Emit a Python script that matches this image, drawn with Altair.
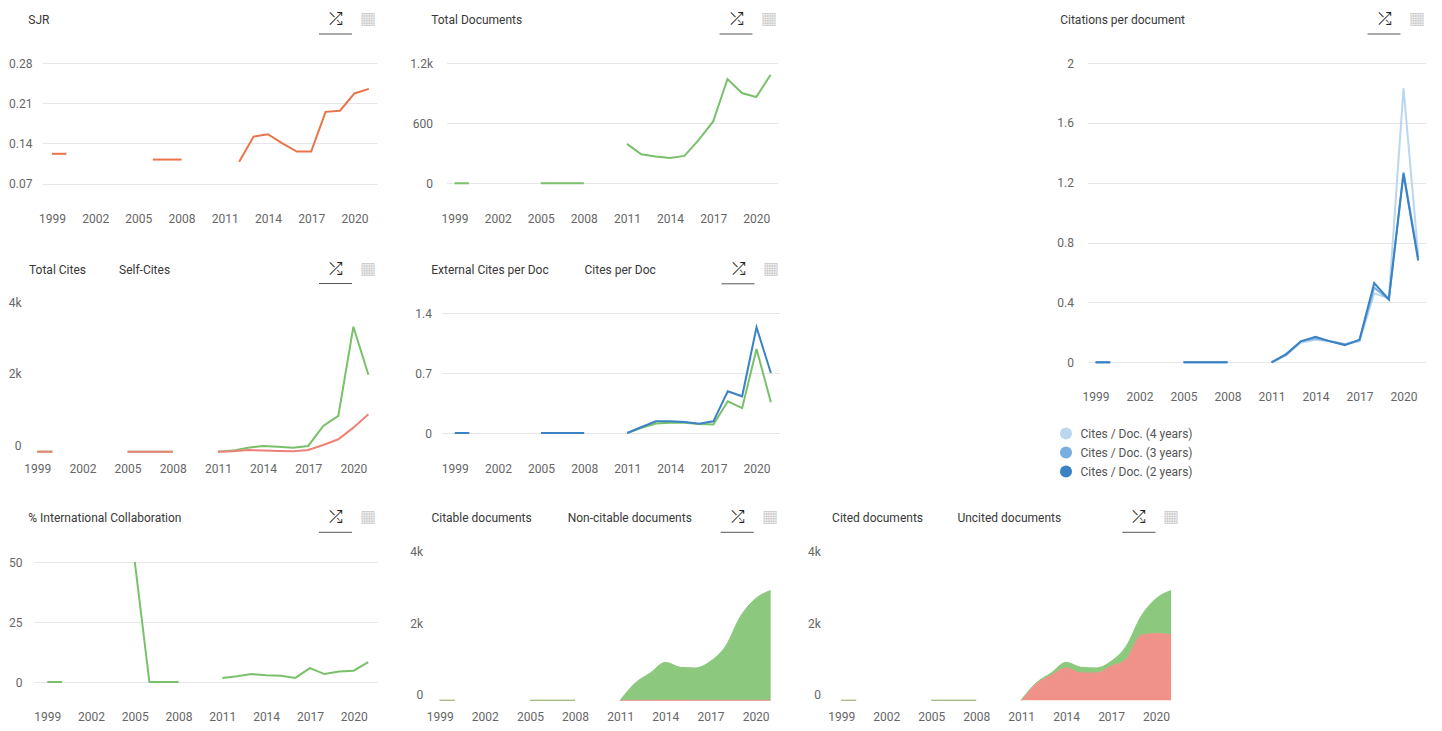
import altair as alt
import pandas as pd

# ---------------- data ----------------
YEARS = list(range(1999, 2022))
TICK_YEARS = [1999, 2002, 2005, 2008, 2011, 2014, 2017, 2020]
N = None

sjr = [0.122, 0.122, N, N, N, N, N, 0.112, 0.112, 0.112, N, N, N,
       0.108, 0.152, 0.156, 0.140, 0.126, 0.126, 0.195, 0.197, 0.227, 0.235]
total_docs = [0, 0, N, N, N, N, 0, 0, 0, 0, N, N,
              393, 290, 267, 253, 273, 433, 617, 1040, 900, 860, 1083]
cpd_4y = [0, 0, N, N, N, N, 0, 0, 0, 0, N, N,
          0, 0.05, 0.13, 0.15, 0.14, 0.12, 0.14, 0.46, 0.43, 1.83, 0.72]
cpd_3y = [0, 0, N, N, N, N, 0, 0, 0, 0, N, N,
          0, 0.05, 0.14, 0.16, 0.14, 0.12, 0.15, 0.50, 0.42, 1.27, 0.70]
cpd_2y = [0, 0, N, N, N, N, 0, 0, 0, 0, N, N,
          0, 0.055, 0.14, 0.17, 0.14, 0.115, 0.15, 0.53, 0.42, 1.26, 0.68]
total_cites = [0, 0, N, N, N, N, 0, 0, 0, 0, N, N,
               0, 30, 112, 160, 140, 112, 160, 717, 996, 3478, 2140]
self_cites = [0, 0, N, N, N, N, 0, 0, 0, 0, N, N,
              0, 10, 47, 30, 20, 10, 47, 186, 345, 670, 1043]
ext_cites_per_doc = [0, 0, N, N, N, N, 0, 0, 0, 0, N, N,
                     0, 0.06, 0.11, 0.12, 0.12, 0.105, 0.10, 0.37, 0.29, 0.98, 0.36]
cites_per_doc = [0, 0, N, N, N, N, 0, 0, 0, 0, N, N,
                 0, 0.07, 0.136, 0.136, 0.128, 0.109, 0.136, 0.486, 0.428, 1.233, 0.70]
intl_collab = [0, 0, N, N, N, N, 50, 0, 0, 0, N, N,
               1.7, 2.4, 3.3, 2.8, 2.6, 1.7, 5.8, 3.3, 4.4, 4.7, 8.3]
citable_docs = [0, 0, N, N, N, N, 0, 0, 0, 0, N, N,
                0, 487, 768, 1068, 928, 909, 1096, 1518, 2361, 2858, 3083]
noncitable_docs = [0, 0, N, N, N, N, 0, 0, 0, 0, N, N,
                   0, 0, 0, 0, 0, 0, 0, 0, 0, 0, 0]
cited_docs = [0, 0, N, N, N, N, 0, 0, 0, 0, N, N,
              0, 28, 68, 159, 160, 141, 140, 375, 534, 984, 1237]
uncited_docs = [0, 0, N, N, N, N, 0, 0, 0, 0, N, N,
                0, 459, 700, 909, 768, 768, 956, 1143, 1827, 1874, 1846]

HEAD_SJR = ["SJR"]
HEAD_DOCS = ["Total Documents"]
HEAD_CPD = ["Citations per document"]
HEAD_CITES = ["Total Cites", "Self-Cites"]
HEAD_EXT = ["External Cites per Doc", "Cites per Doc"]
HEAD_INTL = ["% International Collaboration"]
HEAD_CITABLE = ["Citable documents", "Non-citable documents"]
HEAD_CITED = ["Cited documents", "Uncited documents"]
CPD_SERIES = ["Cites / Doc. (4 years)", "Cites / Doc. (3 years)", "Cites / Doc. (2 years)"]

ICON_CHART = "\u292E"
ICON_TABLE = "\u25A6"

# ---------------- styling ----------------
FONT = "Roboto"
HEAD_COLOR = "#383838"
ORANGE = "#e9744a"
GREEN = "#79c06b"
RED = "#ef8278"
BLUE = "#3b82c4"
BLUE_MID = "#78aee0"
BLUE_LIGHT = "#bad7f0"
AREA_GREEN = "#8cc97e"
AREA_RED = "#f1928a"

ONE = pd.DataFrame({"k": [0]})

LBL_K = "datum.value >= 1000 ? format(datum.value / 1000, '~g') + 'k' : format(datum.value, 'd')"
LBL_G = "format(datum.value, '~g')"
LBL_2F = "format(datum.value, '.2f')"
LBL_D = "format(datum.value, 'd')"


def long_df(pairs):
    rows = []
    for idx, (name, vals) in enumerate(pairs):
        seg, gap = 0, True
        for yr, v in zip(YEARS, vals):
            if v is None:
                gap = True
                continue
            if gap:
                seg += 1
                gap = False
            rows.append({"year": yr, "value": v, "series": name, "key": name,
                         "seg": f"{name}#{seg}", "ord": idx})
    return pd.DataFrame(rows)


def x_enc(domain, rng=None):
    sc = dict(domain=domain, nice=False, zero=False)
    if rng is not None:
        sc["range"] = rng
    return alt.X("year:Q", scale=alt.Scale(**sc),
                 axis=alt.Axis(values=TICK_YEARS, format="d", grid=False, title=None,
                               labelPadding=10, labelFlush=False, labelOverlap=False))


def y_enc(domain, rng, ticks, expr, grid, pad, offset=0, field="value:Q"):
    ax = alt.Axis(values=ticks, labelExpr=expr, grid=grid, title=None,
                  labelPadding=pad, labelOffset=offset, labelOverlap=False)
    return alt.Y(field, scale=alt.Scale(domain=domain, range=rng, nice=False, zero=False), axis=ax)


def lines(df, names, colors, x, y):
    color = alt.Color("series:N", scale=alt.Scale(domain=names, range=colors), legend=None)
    return alt.Chart(df).mark_line(strokeWidth=2).encode(x=x, y=y, color=color, detail="seg:N")


def areas(df, names, colors, x, y):
    color = alt.Color("series:N", scale=alt.Scale(domain=names, range=colors), legend=None)
    return (alt.Chart(df)
            .transform_stack(stack="value", groupby=["year"], as_=["v0", "v1"],
                             sort=[alt.SortField("ord", order="ascending")])
            .mark_area(interpolate="monotone", opacity=1, line={"strokeWidth": 1})
            .encode(x=x, y=y, y2="v0:Q", color=color, detail="seg:N"))


def deco(width, head_y, headers, xs, icon_dx=41):
    out = []
    for txt, dx in zip(headers, xs):
        out.append(alt.Chart(ONE).mark_text(align="left", baseline="middle", font=FONT,
                                            fontSize=12, color=HEAD_COLOR).encode(
            x=alt.value(dx), y=alt.value(head_y), text=alt.value(txt)))
    out.append(alt.Chart(ONE).mark_text(align="center", baseline="middle", fontSize=17,
                                        color="#222").encode(
        x=alt.value(width - icon_dx), y=alt.value(head_y - 1), text=alt.value(ICON_CHART)))
    out.append(alt.Chart(ONE).mark_text(align="center", baseline="middle", fontSize=17,
                                        color="#cfcfcf").encode(
        x=alt.value(width - icon_dx + 32), y=alt.value(head_y - 1), text=alt.value(ICON_TABLE)))
    out.append(alt.Chart(ONE).mark_rule(color="#555", strokeWidth=1).encode(
        x=alt.value(width - icon_dx - 17), x2=alt.value(width - icon_dx + 16),
        y=alt.value(head_y + 14)))
    return out


def panel(base, width, height, head_y, headers, xs, icon_dx=41):
    return alt.layer(*base, *deco(width, head_y, headers, xs, icon_dx)).properties(
        width=width, height=height)


# ---------------- panels ----------------
# SJR
dA = long_df([("SJR", sjr)])
A = panel([lines(dA, ["SJR"], [ORANGE],
                 x_enc([1998.31, 2021.57]),
                 y_enc([0.07, 0.28], [120.7, 0], [0.07, 0.14, 0.21, 0.28], LBL_2F, True, 10))],
          335, 140, -43, HEAD_SJR, [-13.7])

# Total documents
dB = long_df([("Total Documents", total_docs)])
B = panel([lines(dB, ["Total Documents"], [GREEN],
                 x_enc([1998.44, 2021.48]),
                 y_enc([0, 1200], [120.3, 0], [0, 600, 1200], LBL_K, True, 14))],
          331, 140, -43, HEAD_DOCS, [-15.3])

# Citations per document: lines, plus an (empty) circle layer that carries the legend
dC = long_df([(CPD_SERIES[0], cpd_4y), (CPD_SERIES[1], cpd_3y), (CPD_SERIES[2], cpd_2y)])
xC = x_enc([1998.45, 2021.5])
yC = y_enc([0, 2], [299.3, 0], [0, 0.4, 0.8, 1.2, 1.6, 2], LBL_G, True, 14)
legC = alt.Legend(orient="none", legendX=-28, legendY=364, direction="vertical", title=None,
                  symbolType="circle", symbolSize=145, symbolStrokeWidth=0, symbolOpacity=1,
                  labelFontSize=12, labelColor="#555", labelFont=FONT, rowPadding=6,
                  labelOffset=8, padding=0)
cLines = lines(dC, CPD_SERIES, [BLUE_LIGHT, BLUE_MID, BLUE], xC, yC)
cKeys = alt.Chart(dC).transform_filter("datum.year < 0").mark_circle().encode(
    x=xC, y=yC,
    color=alt.Color("key:N", scale=alt.Scale(domain=CPD_SERIES, range=[BLUE_LIGHT, BLUE_MID, BLUE]),
                    legend=legC))
C = alt.layer(cLines, cKeys, *deco(338, -43, HEAD_CPD, [-27.3])).resolve_scale(
    color="independent").properties(width=338, height=318)

# Total cites / self-cites
dD = long_df([("Total Cites", total_cites), ("Self-Cites", self_cites)])
D = panel([lines(dD, HEAD_CITES, [GREEN, RED],
                 x_enc([1998.45, 2021.57], [-13, 335]),
                 y_enc([0, 4000], [143.7, 0], [0, 2000, 4000], LBL_K, False, 21, -6))],
          335, 145, -38.5, HEAD_CITES, [-13, 77])

# External cites per doc / cites per doc
dE = long_df([("External Cites per Doc", ext_cites_per_doc), ("Cites per Doc", cites_per_doc)])
E = panel([lines(dE, HEAD_EXT, [GREEN, BLUE],
                 x_enc([1998.07, 2021.6], [-5, 333]),
                 y_enc([0, 1.4], [120, 0], [0, 0.7, 1.4], LBL_G, True, 15))],
          333, 140.3, -43.2, HEAD_EXT, [-15.3, 138])

# International collaboration
dF = long_df([("% International Collaboration", intl_collab)])
F = panel([lines(dF, HEAD_INTL, [GREEN],
                 x_enc([1998.09, 2021.6], [-8, 335]),
                 y_enc([0, 50], [120, 0], [0, 25, 50], LBL_D, True, 20))],
          335, 139.3, -43.7, HEAD_INTL, [-13.7])

# Citable / non-citable (stacked areas)
dG = long_df([("Non-citable documents", noncitable_docs), ("Citable documents", citable_docs)])
G = panel([areas(dG, HEAD_CITABLE, [AREA_GREEN, AREA_RED],
                 x_enc([1998.34, 2021.8]),
                 y_enc([0, 4000], [138.3, -4.1], [0, 2000, 4000], LBL_K, False, 7, -6, "v1:Q"))],
          353, 139.3, -43.7, HEAD_CITABLE, [1.7, 138], icon_dx=45)

# Cited / uncited (stacked areas)
dH = long_df([("Uncited documents", uncited_docs), ("Cited documents", cited_docs)])
H = panel([areas(dH, HEAD_CITED, [AREA_GREEN, AREA_RED],
                 x_enc([1998.35, 2021.62]),
                 y_enc([0, 4000], [138.3, -4.1], [0, 2000, 4000], LBL_K, False, 11, -6, "v1:Q"))],
          349, 139.3, -43.7, HEAD_CITED, [0.7, 126], icon_dx=41)

spacer = alt.Chart(ONE).mark_text(text="").encode(
    x=alt.value(0), y=alt.value(0)).properties(width=233, height=10)

IND = dict(x="independent", y="independent", color="independent")
col1 = alt.vconcat(A, D, spacing=35).resolve_scale(**IND)
col2 = alt.vconcat(B, E, spacing=35).resolve_scale(**IND)
row12 = alt.hconcat(col1, col2, spacer, C, spacing=19.5).resolve_scale(**IND)
row3 = alt.hconcat(F, G, H, spacing=24.7).resolve_scale(**IND)

chart = (alt.vconcat(row12, row3, spacing=30)
         .resolve_scale(**IND)
         .properties(padding={"left": 0, "top": 2, "right": 0, "bottom": 0})
         .configure_view(stroke=None)
         .configure_axis(labelFont=FONT, labelFontSize=12, labelColor="#666",
                         domain=False, ticks=False, gridColor="#e6e6e6", gridWidth=1))

chart.save("out.html", embed_options={"renderer": "svg", "actions": False})
